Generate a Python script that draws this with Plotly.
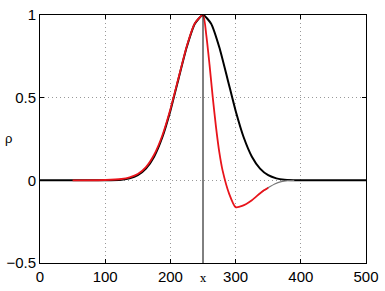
import plotly.graph_objects as go

# Black curve (Gaussian-like pulse)
black_x = [0, 50, 100, 125, 137.5, 150, 162.5, 175, 187.5, 200, 212.5, 225, 237.5, 250,
           262.5, 275, 287.5, 300, 312.5, 325, 337.5, 350, 362.5, 375, 400, 450, 500]
black_y = [0, 0, 0, 0.004, 0.012, 0.031, 0.071, 0.143, 0.259, 0.421, 0.615, 0.805, 0.947, 1.0,
           0.947, 0.805, 0.615, 0.421, 0.259, 0.143, 0.071, 0.031, 0.012, 0.004, 0, 0, 0]

# Red curve (asymmetric, with undershoot)
red_x = [50, 100, 125, 137.5, 150, 162.5, 175, 187.5, 200, 212.5, 225, 237.5, 250,
         255, 260, 265, 270, 275, 280, 290, 300, 310, 325, 340, 350]
red_y = [0, 0.002, 0.008, 0.018, 0.038, 0.08, 0.155, 0.27, 0.43, 0.62, 0.81, 0.95, 1.0,
         0.88, 0.70, 0.50, 0.32, 0.17, 0.06, -0.08, -0.162, -0.155, -0.12, -0.07, -0.045]

# Grey tail
grey_x = [340, 350, 360, 370, 380, 390]
grey_y = [-0.07, -0.045, -0.022, -0.008, -0.002, 0]

x_ticks = [0, 100, 200, 300, 400, 500]
y_ticks = [-0.5, 0, 0.5, 1]
y_ticklabels = ["\u22120.5", "0", "0.5", "1"]
marker_x = 250

fig = go.Figure()
fig.add_trace(go.Scatter(x=black_x, y=black_y, mode="lines", line=dict(color="black", width=2, shape="spline", smoothing=0.6), hoverinfo="skip"))
fig.add_trace(go.Scatter(x=grey_x, y=grey_y, mode="lines", line=dict(color="#777777", width=1.2, shape="spline"), hoverinfo="skip"))
fig.add_trace(go.Scatter(x=red_x, y=red_y, mode="lines", line=dict(color="#e8141b", width=1.8, shape="spline", smoothing=0.6), hoverinfo="skip"))
fig.add_trace(go.Scatter(x=[marker_x, marker_x], y=[-0.5, 1], mode="lines", line=dict(color="black", width=1), hoverinfo="skip"))

axis_common = dict(
    showline=True, linecolor="black", linewidth=1, mirror="ticks",
    ticks="inside", ticklen=4, tickcolor="black",
    showgrid=True, gridcolor="#999999", griddash="1px,3px", gridwidth=1,
    zeroline=False, ticklabeloverflow="allow",
    tickfont=dict(family="Liberation Sans, Arial", size=15, color="black"),
)

fig.update_layout(
    width=385, height=291,
    margin=dict(l=39, r=18, t=6, b=26),
    paper_bgcolor="white", plot_bgcolor="white",
    showlegend=False,
    xaxis=dict(range=[0, 500], tickvals=x_ticks, **axis_common),
    yaxis=dict(range=[-0.5, 1], tickvals=y_ticks, ticktext=y_ticklabels, **axis_common),
    annotations=[
        dict(text="x", x=0.5, y=-0.062, xref="paper", yref="paper", showarrow=False,
             xanchor="center", yanchor="middle", font=dict(family="DejaVu Serif", size=11, color="black")),
        dict(text="\u03c1", x=-0.0976, y=0.502, xref="paper", yref="paper", showarrow=False,
             xanchor="center", yanchor="middle", font=dict(family="Liberation Sans", size=13, color="black")),
    ],
)

fig.write_html("out.html")
